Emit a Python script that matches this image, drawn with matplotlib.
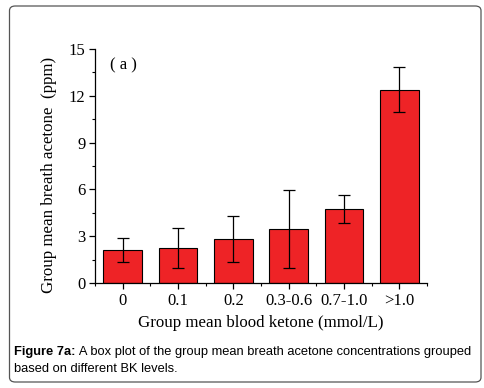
import numpy as np
import matplotlib.pyplot as plt
from matplotlib.patches import FancyBboxPatch
from matplotlib.ticker import MultipleLocator

# Group mean breath acetone per blood ketone group
groups = ['0', '0.1', '0.2', '0.3-0.6', '0.7-1.0', '>1.0']
acetone = [2.1, 2.25, 2.82, 3.47, 4.73, 12.38]
err = [0.77, 1.3, 1.47, 2.52, 0.9, 1.45]

serif = 'Liberation Serif'
sans = 'Liberation Sans'

fig = plt.figure(figsize=(4.84, 3.88), dpi=100)

# rounded frame around figure + caption
frame = FancyBboxPatch((9.5 / 484, 6 / 388), 471.5 / 484, 376 / 388,
                       boxstyle='round,pad=0,rounding_size=0.012',
                       transform=fig.transFigure, facecolor='none',
                       edgecolor='#555555', linewidth=0.9, zorder=-1)
fig.patches.append(frame)

ax = fig.add_axes([95 / 484, 1 - 283.3 / 388, 332 / 484, (283.3 - 48.7) / 388])
x = np.arange(len(groups))
ax.bar(x, acetone, width=0.7, color='#EE2326', edgecolor='black', linewidth=0.8,
       yerr=err, capsize=4, error_kw=dict(elinewidth=0.9, capthick=0.9, ecolor='black'))

ax.set_xlim(-0.5, 5.5)
ax.set_ylim(0, 15)
ax.set_xticks(x)
ax.set_xticklabels(groups)
ax.xaxis.set_minor_locator(MultipleLocator(0.5))
ax.yaxis.set_major_locator(MultipleLocator(3))
ax.yaxis.set_minor_locator(MultipleLocator(1.5))
ax.spines['top'].set_visible(False)
ax.spines['right'].set_visible(False)
for s in ['left', 'bottom']:
    ax.spines[s].set_linewidth(0.9)
ax.tick_params(which='major', direction='out', length=4, width=0.9, labelsize=12, pad=3)
ax.tick_params(which='minor', direction='out', length=2.5, width=0.8)
for lab in ax.get_xticklabels() + ax.get_yticklabels():
    lab.set_family(serif)

ax.set_xlabel('Group mean blood ketone (mmol/L)', family=serif, fontsize=12.2, labelpad=4)
ax.set_ylabel('Group mean breath acetone  (ppm)', family=serif, fontsize=12.2)
ax.yaxis.set_label_coords(-0.115, 0.46)
ax.text(0.045, 0.93, '( a )', transform=ax.transAxes, fontsize=12,
        family=serif, va='center', ha='left')

# caption: bold lead-in followed by plain text
cx, cy = 14 / 484, 1 - 352 / 388
fs = 9.3
bold = fig.text(cx, cy, 'Figure 7a:', fontsize=fs, family=sans, weight='bold',
                va='center', ha='left')
fig.canvas.draw()
bb = bold.get_window_extent().transformed(fig.transFigure.inverted())
fig.text(bb.x1, cy, ' A box plot of the group mean breath acetone concentrations grouped',
         fontsize=fs, family=sans, va='center', ha='left')
fig.text(cx, 1 - 369 / 388, 'based on different BK levels.',
         fontsize=fs, family=sans, va='center', ha='left')
fig.savefig('out.png', dpi=100)
